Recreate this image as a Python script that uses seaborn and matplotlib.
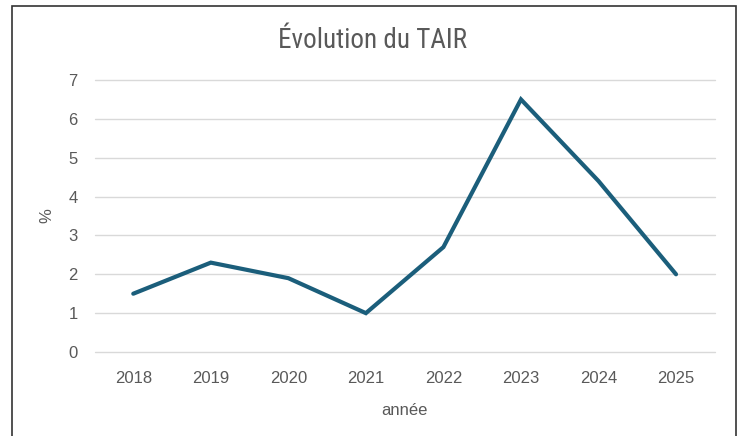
import matplotlib
matplotlib.use("Agg")
import matplotlib.pyplot as plt
import seaborn as sns
import pandas as pd
from matplotlib.patches import Rectangle

years = ["2018", "2019", "2020", "2021", "2022", "2023", "2024", "2025"]
tair = [1.5, 2.3, 1.9, 1.0, 2.7, 6.5, 4.4, 2.0]
yticks = [0, 1, 2, 3, 4, 5, 6, 7]

df = pd.DataFrame({"année": years, "TAIR": tair})

sns.set_style("white")
plt.rcParams['font.family'] = ['Liberation Sans', 'DejaVu Sans']

W, H = 740, 436
fig = plt.figure(figsize=(W / 100, H / 100), dpi=100)
ax = fig.add_axes([94.5 / W, (H - 352) / H, (714.8 - 94.5) / W, (352 - 80) / H])

sns.lineplot(data=df, x="année", y="TAIR", ax=ax, color="#1b5e7b", linewidth=3,
             sort=False, solid_joinstyle="miter", zorder=3)

ax.set_xlim(-0.5, len(years) - 0.5)
ax.set_ylim(0, 7)
ax.set_yticks(yticks)
ax.set_yticklabels([str(v) for v in yticks])
ax.grid(axis="y", color="#d9d9d9", linewidth=1)
ax.grid(axis="x", visible=False)
ax.set_axisbelow(True)
for gl in ax.get_ygridlines():
    gl.set_clip_on(False)
for s in ax.spines.values():
    s.set_visible(False)
ax.tick_params(axis="both", length=0, labelsize=12, labelcolor="#595959")
ax.tick_params(axis="y", pad=12)
ax.tick_params(axis="x", pad=14)

ax.set_xlabel("année", fontsize=12, color="#595959", labelpad=12)
ax.set_ylabel("%", fontsize=12, color="#595959", labelpad=10)

fig.text(372 / W, 1 - 40 / H, "Évolution du TAIR", ha="center", va="center",
         fontsize=19.5, color="#595959",
         family=['Roboto Condensed', 'Roboto', 'DejaVu Sans'])

fig.patches.append(Rectangle((12 / W, -0.02), (736 - 12) / W, 1.02 - 6 / H,
                             transform=fig.transFigure, fill=False,
                             edgecolor="#333333", linewidth=1.2))

fig.savefig("out.png", dpi=100)
